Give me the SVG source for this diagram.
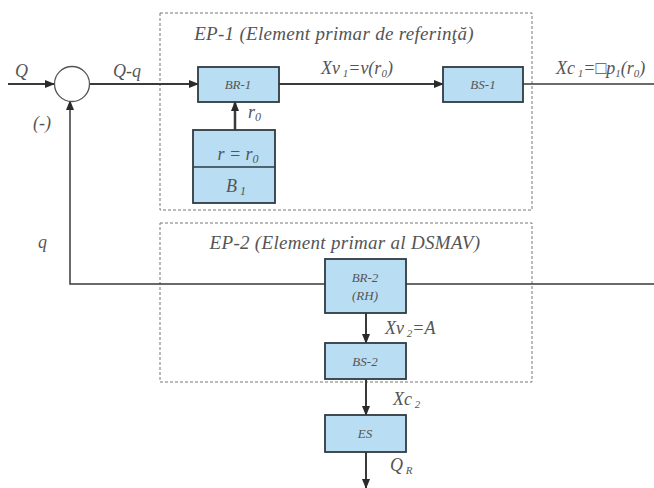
<svg xmlns="http://www.w3.org/2000/svg" width="654" height="488" viewBox="0 0 654 488">
<style>
.bx{fill:#b9def3;stroke:#2f3a40;stroke-width:1.8}
.ln{fill:none;stroke:#3a3a3a;stroke-width:2}
.dash{fill:none;stroke:#777;stroke-width:1;stroke-dasharray:3 2}
text{font-family:'Liberation Serif','DejaVu Serif',serif;font-style:italic;fill:#555}
.h{font-size:19px;text-anchor:middle;letter-spacing:0.3px}
.t{font-size:18px}
.s{font-size:13px;text-anchor:middle}
</style>
<defs>
<marker id="ah" markerWidth="10" markerHeight="8" refX="9" refY="4" orient="auto" markerUnits="userSpaceOnUse">
<path d="M0,0 L10,4 L0,8 Z" fill="#2a2a2a"/>
</marker>
</defs>
<rect width="654" height="488" fill="#fff"/>
<g id="ep1"><rect class="dash" x="160" y="13" width="372" height="197"/><text class="h" x="334" y="40">EP-1 (Element primar de referinţă)</text></g>
<g id="ep2"><rect class="dash" x="160" y="223" width="372" height="159"/><text class="h" x="345" y="249">EP-2 (Element primar al DSMAV)</text></g>
<g id="connectors">
<line class="ln" x1="8" y1="84" x2="54" y2="84" marker-end="url(#ah)"/>
<line class="ln" x1="89" y1="84" x2="198" y2="84" marker-end="url(#ah)"/>
<line class="ln" x1="279" y1="84" x2="443" y2="84" marker-end="url(#ah)"/>
<line class="ln" x1="523" y1="84" x2="654" y2="84" style="stroke-width:1.5"/>
<line class="ln" x1="235" y1="130" x2="235" y2="102" marker-end="url(#ah)" style="stroke-width:2.5"/>
<polyline class="ln" points="654,284 70,284 70,101" marker-end="url(#ah)" style="stroke-width:1.5"/>
<line class="ln" x1="366" y1="313" x2="366" y2="343" marker-end="url(#ah)"/>
<line class="ln" x1="366" y1="379" x2="366" y2="415" marker-end="url(#ah)"/>
<line class="ln" x1="366" y1="452" x2="366" y2="488" marker-end="url(#ah)"/>
</g>
<g id="sum"><circle cx="72" cy="84" r="17.5" fill="#fff" stroke="#555" stroke-width="1.3"/></g>
<g id="br1"><rect class="bx" x="198" y="67" width="81" height="35"/><text class="s" x="238" y="89">BR-1</text></g>
<g id="bs1"><rect class="bx" x="443" y="67" width="80" height="35"/><text class="s" x="483" y="89">BS-1</text></g>
<g id="b1"><rect class="bx" x="193" y="130" width="82" height="73"/><line x1="193" y1="167" x2="275" y2="167" stroke="#2f3a40" stroke-width="1.5"/><text class="t" x="238" y="160" text-anchor="middle">r = r<tspan font-size="12" dy="3">0</tspan></text><text class="t" x="236" y="192" text-anchor="middle">B<tspan font-size="12" dy="3"> 1</tspan></text></g>
<g id="br2"><rect class="bx" x="325" y="259" width="81" height="54"/><text class="s" x="365" y="282">BR-2</text><text class="s" x="365" y="300">(RH)</text></g>
<g id="bs2"><rect class="bx" x="325" y="343" width="81" height="36"/><text class="s" x="365" y="366">BS-2</text></g>
<g id="es"><rect class="bx" x="325" y="415" width="81" height="37"/><text class="s" x="365" y="438">ES</text></g>
<g id="labels">
<text class="t" x="15" y="77" font-size="19">Q</text>
<text class="t" x="113" y="77" font-size="19">Q-q</text>
<text class="t" x="33" y="129" font-size="19">(-)</text>
<text class="t" x="38" y="248" font-size="19">q</text>
<text class="t" x="248" y="118">r<tspan font-size="12" dy="3">0</tspan></text>
<text class="t" x="321" y="74">Xv<tspan font-size="11" dy="3"> 1</tspan><tspan dy="-3">=v(r</tspan><tspan font-size="11" dy="3">0</tspan><tspan dy="-3">)</tspan></text>
<text class="t" x="556" y="74">Xc<tspan font-size="11" dy="3"> 1</tspan><tspan dy="-3">=□p</tspan><tspan font-size="11" dy="3">1</tspan><tspan dy="-3">(r</tspan><tspan font-size="11" dy="3">0</tspan><tspan dy="-3">)</tspan></text>
<text class="t" x="385" y="334">Xv<tspan font-size="11" dy="3"> 2</tspan><tspan dy="-3">=A</tspan></text>
<text class="t" x="393" y="405">Xc<tspan font-size="11" dy="3"> 2</tspan></text>
<text class="t" x="390" y="471">Q<tspan font-size="11" dy="3"> R</tspan></text>
</g>
</svg>
